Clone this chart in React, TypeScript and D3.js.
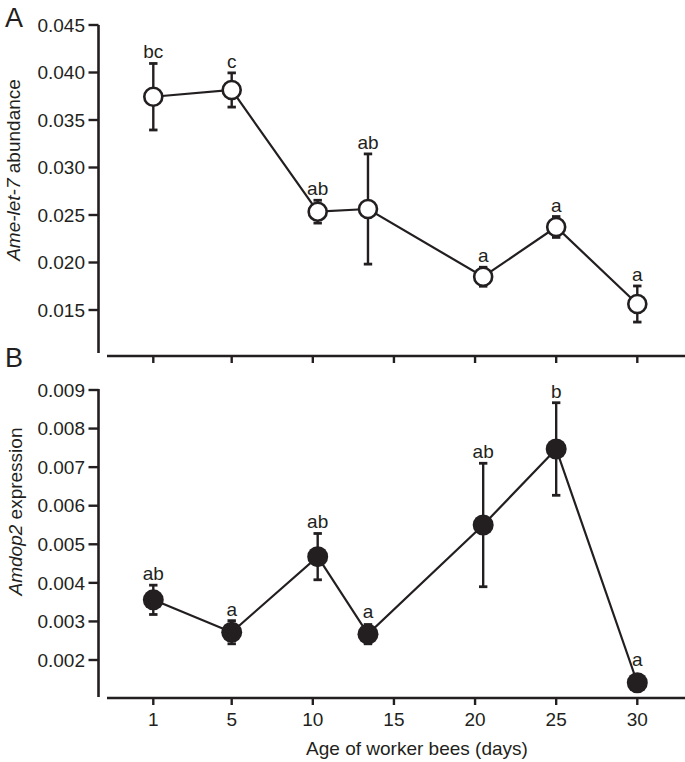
import React from "react";
import * as d3 from "d3";

const days = [1, 5, 10.3, 13.4, 20.5, 25, 30];
const tickDays = [1, 5, 10, 15, 20, 25, 30];

const let7Mean = [0.03745, 0.03816, 0.02535, 0.02563, 0.0185, 0.02374, 0.01563];
const let7Err = [0.0035, 0.0018, 0.0012, 0.0058, 0.001, 0.0011, 0.0019];
const let7Letters = ["bc", "c", "ab", "ab", "a", "a", "a"];
const let7Ticks = [0.015, 0.02, 0.025, 0.03, 0.035, 0.04, 0.045];

const amdMean = [0.00356, 0.00272, 0.00468, 0.00267, 0.0055, 0.00747, 0.00141];
const amdErr = [0.00038, 0.0003, 0.0006, 0.00025, 0.0016, 0.0012, 0.0002];
const amdLetters = ["ab", "a", "ab", "a", "ab", "b", "a"];
const amdTicks = [0.002, 0.003, 0.004, 0.005, 0.006, 0.007, 0.008, 0.009];

const INK = "#231f20";
const FONT = "'Liberation Sans', Arial, Helvetica, sans-serif";

const x = d3.scaleLinear().domain([1, 5, 30]).range([153.3, 231.7, 637.3]);

type PanelProps = {
  mean: number[];
  err: number[];
  letters: string[];
  ticks: number[];
  y: d3.ScaleLinear<number, number>;
  yTop: number;
  yBottom: number;
  xAxisY: number;
  filled: boolean;
  fmt: (v: number) => string;
};

function Panel({ mean, err, letters, ticks, y, yTop, yBottom, xAxisY, filled, fmt }: PanelProps) {
  const r = filled ? 10.5 : 9;
  const line = d3
    .line<number>()
    .x((_, i) => x(days[i]))
    .y((d) => y(d));
  const axisX = 98.5;
  return (
    <g>
      {/* y axis */}
      <line x1={axisX} x2={axisX} y1={yTop} y2={yBottom} stroke={INK} strokeWidth={2.6} />
      {ticks.map((t) => (
        <g key={t}>
          <line x1={axisX - 10} x2={axisX} y1={y(t)} y2={y(t)} stroke={INK} strokeWidth={2.4} />
          <text
            x={85}
            y={y(t)}
            dy="0.35em"
            textAnchor="end"
            fontSize={19}
            fontFamily={FONT}
            fill={INK}
          >
            {fmt(t)}
          </text>
        </g>
      ))}
      {/* x axis */}
      <line x1={107} x2={685} y1={xAxisY} y2={xAxisY} stroke={INK} strokeWidth={2.4} />
      {tickDays.map((t) => (
        <line key={t} x1={x(t)} x2={x(t)} y1={xAxisY} y2={xAxisY + 7} stroke={INK} strokeWidth={2.4} />
      ))}
      {/* error bars */}
      {mean.map((m, i) => {
        const cx = x(days[i]);
        const yHi = y(m + err[i]);
        const yLo = y(m - err[i]);
        return (
          <g key={i}>
            <line x1={cx} x2={cx} y1={yHi} y2={yLo} stroke={INK} strokeWidth={2.4} />
            <line x1={cx - 4.2} x2={cx + 4.2} y1={yHi} y2={yHi} stroke={INK} strokeWidth={2.8} />
            <line x1={cx - 4.2} x2={cx + 4.2} y1={yLo} y2={yLo} stroke={INK} strokeWidth={2.8} />
          </g>
        );
      })}
      <path d={line(mean) || ""} fill="none" stroke={INK} strokeWidth={2.2} />
      {mean.map((m, i) => (
        <circle
          key={i}
          cx={x(days[i])}
          cy={y(m)}
          r={r}
          fill={filled ? INK : "#fff"}
          stroke={filled ? "none" : INK}
          strokeWidth={2.6}
        />
      ))}
      {mean.map((m, i) => {
        const top = Math.min(y(m + err[i]), y(m) - r - 1);
        return (
          <text
            key={i}
            x={x(days[i])}
            y={top - 5}
            textAnchor="middle"
            fontSize={19}
            fontFamily={FONT}
            fill={INK}
          >
            {letters[i]}
          </text>
        );
      })}
    </g>
  );
}

export default function App() {
  const yTopScale = d3.scaleLinear().domain([0.015, 0.045]).range([310, 25]);
  const yBotScale = d3.scaleLinear().domain([0.002, 0.009]).range([660, 390]);
  return (
    <svg
      width={685}
      height={762}
      viewBox="0 0 685 762"
      style={{ position: "absolute", left: 0, top: 0, background: "#fff" }}
    >
      <rect x={0} y={0} width={685} height={762} fill="#fff" />
      <text x={5} y={27} fontSize={27} fontFamily={FONT} fill={INK}>
        A
      </text>
      <text x={5} y={367} fontSize={27} fontFamily={FONT} fill={INK}>
        B
      </text>
      <Panel
        mean={let7Mean}
        err={let7Err}
        letters={let7Letters}
        ticks={let7Ticks}
        y={yTopScale}
        yTop={25}
        yBottom={353}
        xAxisY={356}
        filled={false}
        fmt={d3.format(".3f")}
      />
      <Panel
        mean={amdMean}
        err={amdErr}
        letters={amdLetters}
        ticks={amdTicks}
        y={yBotScale}
        yTop={389}
        yBottom={697}
        xAxisY={698}
        filled={true}
        fmt={d3.format(".3f")}
      />
      {tickDays.map((t) => (
        <text
          key={t}
          x={x(t)}
          y={726}
          textAnchor="middle"
          fontSize={19}
          fontFamily={FONT}
          fill={INK}
        >
          {t}
        </text>
      ))}
      <text x={417} y={755} textAnchor="middle" fontSize={19} fontFamily={FONT} fill={INK}>
        Age of worker bees (days)
      </text>
      <text
        transform="translate(19.5,170) rotate(-90)"
        textAnchor="middle"
        fontSize={19}
        fontFamily={FONT}
        fill={INK}
      >
        <tspan fontStyle="italic">Ame-let-7</tspan>
        <tspan> abundance</tspan>
      </text>
      <text
        transform="translate(22,511.5) rotate(-90)"
        textAnchor="middle"
        fontSize={19}
        fontFamily={FONT}
        fill={INK}
      >
        <tspan fontStyle="italic">Amdop2</tspan>
        <tspan> expression</tspan>
      </text>
    </svg>
  );
}
